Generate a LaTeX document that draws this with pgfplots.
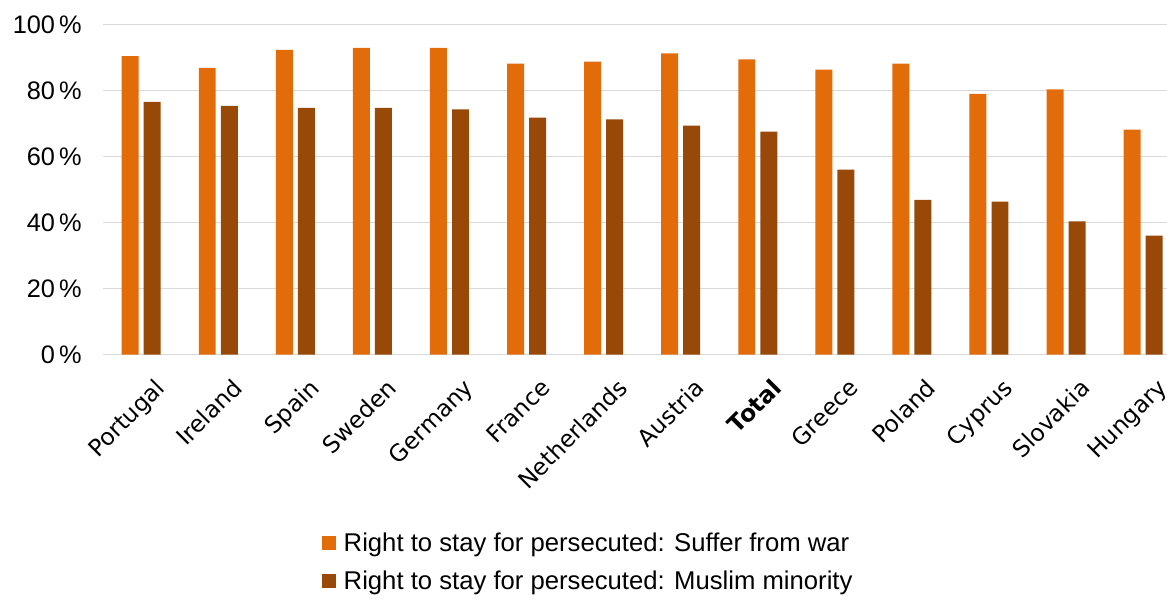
\documentclass[border=0pt]{standalone}
\usepackage{pgfplots}
\usepackage{pgfplotstable}
\usepackage{fontspec}
\pgfplotsset{compat=1.18}
\setmainfont{Liberation Sans}
\newfontfamily\dejavu{DejaVu Sans}
\definecolor{warorange}{RGB}{227,108,10}
\definecolor{muslimbrown}{RGB}{152,72,7}
\definecolor{gridgray}{RGB}{217,217,217}

% share of respondents
\pgfplotstableread{
x war muslim
0 90.5 76.6
1 86.9 75.4
2 92.4 74.8
3 93.0 74.8
4 93.0 74.3
5 88.2 71.8
6 88.8 71.3
7 91.3 69.4
8 89.5 67.6
9 86.4 56.1
10 88.2 46.9
11 79.0 46.4
12 80.4 40.4
13 68.2 36.1
}\rightdata

\begin{document}
\begin{tikzpicture}
\begin{axis}[
    name=ax,
    scale only axis,
    width=638.6pt,
    height=198pt,
    ybar,
    bar width=0.22,
    xmin=-0.5, xmax=13.31,
    ymin=0, ymax=100,
    xtick=data,
    xticklabels={Portugal,Ireland,Spain,Sweden,Germany,France,Netherlands,Austria,\textbf{Total},Greece,Poland,Cyprus,Slovakia,Hungary},
    ytick={0,20,40,60,80,100},
    yticklabel={\pgfmathprintnumber[assume math mode=true]{\tick}\,\%},
    yticklabel style={font=\fontsize{15.2}{17}\selectfont, xshift=-9pt},
    xticklabel style={font=\dejavu\fontsize{14}{16}\selectfont, rotate=45, anchor=north east, inner sep=1pt, xshift=-3pt, yshift=-13.8pt},
    major tick length=0pt,
    axis line style={draw=none},
    ymajorgrids,
    major grid style={gridgray, line width=0.9pt},
    legend style={at={(0.206,-0.529)}, anchor=north west, draw=none,
        inner sep=0pt, font=\fontsize{15.4}{18}\selectfont, row sep=6pt,
        legend cell align=left},
    legend image code/.code={\fill[#1] (0pt,-4.2pt) rectangle (8.4pt,4.2pt); \path (10.9pt,0pt);},
]
\addplot[fill=warorange, draw=none, bar shift=-0.143] table[x=x, y=war] {\rightdata};
\addlegendentry{Right to stay for persecuted: Suffer from war}
\addplot[fill=muslimbrown, draw=none, bar shift=0.143] table[x=x, y=muslim] {\rightdata};
\addlegendentry{Right to stay for persecuted: Muslim minority}
\end{axis}
\pgfresetboundingbox
\path ([shift={(-61.6pt,-146.6pt)}]ax.south west) rectangle ([shift={(0pt,14.8pt)}]ax.north east);
\end{tikzpicture}
\end{document}
